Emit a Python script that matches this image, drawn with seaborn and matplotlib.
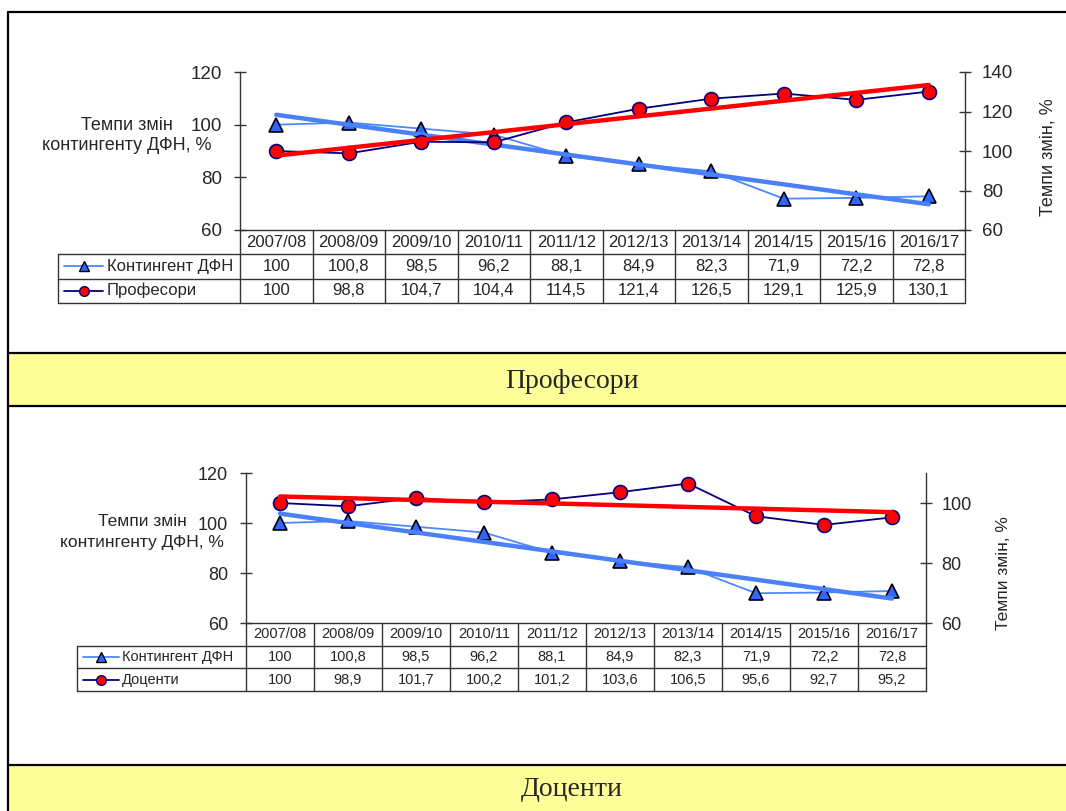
import numpy as np
import pandas as pd
import matplotlib
matplotlib.use("Agg")
import matplotlib.pyplot as plt
import matplotlib.transforms as mtransforms
from matplotlib.lines import Line2D
from matplotlib.patches import Rectangle
import seaborn as sns

# дані
years = ["2007/08", "2008/09", "2009/10", "2010/11", "2011/12",
         "2012/13", "2013/14", "2014/15", "2015/16", "2016/17"]
kontyngent = [100, 100.8, 98.5, 96.2, 88.1, 84.9, 82.3, 71.9, 72.2, 72.8]
profesory = [100, 98.8, 104.7, 104.4, 114.5, 121.4, 126.5, 129.1, 125.9, 130.1]
dotsenty = [100, 98.9, 101.7, 100.2, 101.2, 103.6, 106.5, 95.6, 92.7, 95.2]

W, H = 1066, 811

sns.set_theme(style="white")
plt.rcParams['font.family'] = ['Liberation Sans', 'DejaVu Sans']

BLUE_LINE = "#4D88FF"
BLUE_FILL = "#3366FF"
BLUE_TREND = "#4A80F8"
NAVY = "#000080"
RED = "#FF0000"
GRID = "#333333"


def fx(x):
    return x / W


def fy(y):
    return 1 - y / H


def fmt(v):
    return f"{v:g}".replace(".", ",")


fig = plt.figure(figsize=(W / 100, H / 100), dpi=100)

# рамка і жовті смуги
fig.add_artist(Rectangle((fx(9), fy(406)), 1, (406 - 353) / H, transform=fig.transFigure,
                         facecolor="#FFFF99", edgecolor="none"))
fig.add_artist(Rectangle((fx(9), fy(811)), 1, (811 - 765) / H, transform=fig.transFigure,
                         facecolor="#FFFF99", edgecolor="none"))
for yy in [12, 353, 406, 765]:
    fig.add_artist(Line2D([fx(8), 1], [fy(yy), fy(yy)], transform=fig.transFigure,
                          color="black", lw=1.6))
fig.add_artist(Line2D([fx(8), fx(8)], [fy(12), 0], transform=fig.transFigure,
                      color="black", lw=1.6))
fig.text(fx(572), fy(381), "Професори", ha="center", va="center", fontsize=20,
         family=["Liberation Serif", "DejaVu Serif"])
fig.text(fx(572), fy(790), "Доценти", ha="center", va="center", fontsize=20,
         family=["Liberation Serif", "DejaVu Serif"])


def draw_panel(box, left_lim, right_lim, right_ticks, staff, staff_name,
               rh, leg_left, key_x, lab_x, fs_tick, fs_tab, pads, ylab_left, ylab_right):
    x0, x1, y0, y1 = box
    ax = fig.add_axes([fx(x0), fy(y1), (x1 - x0) / W, (y1 - y0) / H])
    ax2 = ax.twinx()
    pos = np.arange(len(years))
    df = pd.DataFrame({"pos": pos, "kont": kontyngent, "staff": staff})

    # лінійні тренди
    k_fit = np.polyval(np.polyfit(pos, kontyngent, 1), pos)
    s_fit = np.polyval(np.polyfit(pos, staff, 1), pos)

    sns.lineplot(data=df, x="pos", y="kont", ax=ax, color=BLUE_LINE, lw=1.3,
                 marker="^", markersize=10.5, markerfacecolor=BLUE_FILL,
                 markeredgecolor="black", markeredgewidth=1.2, legend=False, zorder=3)
    sns.lineplot(x=pos, y=k_fit, ax=ax, color=BLUE_TREND, lw=3.2, legend=False, zorder=4)
    sns.lineplot(data=df, x="pos", y="staff", ax=ax2, color=NAVY, lw=1.3,
                 marker="o", markersize=10, markerfacecolor=RED,
                 markeredgecolor=NAVY, markeredgewidth=1.2, legend=False, zorder=3)
    sns.lineplot(x=pos, y=s_fit, ax=ax2, color=RED, lw=3.2, legend=False, zorder=4)

    for a in (ax, ax2):
        a.set_xlim(-0.5, len(years) - 0.5)
        a.set_xticks([])
        a.set_xlabel("")
        a.set_ylabel("")
        for s in a.spines.values():
            s.set_visible(False)
    ax.set_ylim(*left_lim)
    ax.set_yticks(np.arange(left_lim[0], left_lim[1] + 1, 20))
    ax2.set_ylim(*right_lim)
    ax2.set_yticks(right_ticks)
    ax.spines["left"].set_visible(True)
    ax.spines["bottom"].set_visible(True)
    ax2.spines["right"].set_visible(True)
    for s in [ax.spines["left"], ax.spines["bottom"], ax2.spines["right"]]:
        s.set_color(GRID)
        s.set_linewidth(1.0)
    ax.tick_params(axis="y", direction="inout", length=8, width=1, color=GRID,
                   labelsize=fs_tick, pad=pads[0], left=True)
    ax2.tick_params(axis="y", direction="inout", length=8, width=1, color=GRID,
                    labelsize=fs_tick, pad=pads[1], right=True)
    ax.patch.set_alpha(0)

    # підпис лівої осі: два рядки окремо
    fig.text(fx(ylab_left[0]), fy(ylab_left[1] - 10), "Темпи змін",
             ha="center", va="center", fontsize=fs_tick - 0.5)
    fig.text(fx(ylab_left[0]), fy(ylab_left[1] + 10), "контингенту ДФН, %",
             ha="center", va="center", fontsize=fs_tick - 0.5)
    fig.text(fx(ylab_right[0]), fy(ylab_right[1]), "Темпи змін, %", rotation=90,
             ha="center", va="center", fontsize=fs_tick - 0.5)

    # таблиця даних під графіком
    trans = mtransforms.blended_transform_factory(ax.transData, fig.transFigure)
    rows_y = [y1 + i * rh for i in range(4)]
    for yy in rows_y[1:]:
        fig.add_artist(Line2D([fx(leg_left), fx(x1)], [fy(yy), fy(yy)],
                              transform=fig.transFigure, color=GRID, lw=1.0))
    for c in range(len(years) + 1):
        fig.add_artist(Line2D([c - 0.5, c - 0.5], [fy(rows_y[0]), fy(rows_y[3])],
                              transform=trans, color=GRID, lw=1.0))
    fig.add_artist(Line2D([fx(leg_left), fx(leg_left)], [fy(rows_y[1]), fy(rows_y[3])],
                          transform=fig.transFigure, color=GRID, lw=1.0))
    for c, yr in enumerate(years):
        fig.text(c, fy(rows_y[0] + rh / 2), yr, transform=trans, ha="center",
                 va="center", fontsize=fs_tab)
        fig.text(c, fy(rows_y[1] + rh / 2), fmt(kontyngent[c]), transform=trans,
                 ha="center", va="center", fontsize=fs_tab)
        fig.text(c, fy(rows_y[2] + rh / 2), fmt(staff[c]), transform=trans,
                 ha="center", va="center", fontsize=fs_tab)

    # ключі легенди в таблиці
    ky1 = fy(rows_y[1] + rh / 2)
    ky2 = fy(rows_y[2] + rh / 2)
    kc = (key_x[0] + key_x[1]) / 2
    fig.add_artist(Line2D([fx(key_x[0]), fx(key_x[1])], [ky1, ky1],
                          transform=fig.transFigure, color=BLUE_LINE, lw=1.3))
    fig.add_artist(Line2D([fx(kc)], [ky1], transform=fig.transFigure, marker="^",
                          markersize=6.5, markerfacecolor=BLUE_FILL,
                          markeredgecolor="black", markeredgewidth=1.0, lw=0))
    fig.add_artist(Line2D([fx(key_x[0]), fx(key_x[1])], [ky2, ky2],
                          transform=fig.transFigure, color=NAVY, lw=1.3))
    fig.add_artist(Line2D([fx(kc)], [ky2], transform=fig.transFigure, marker="o",
                          markersize=7, markerfacecolor=RED,
                          markeredgecolor=NAVY, markeredgewidth=1.0, lw=0))
    fig.text(fx(lab_x), ky1, "Контингент ДФН", ha="left", va="center", fontsize=fs_tab)
    fig.text(fx(lab_x), ky2, staff_name, ha="left", va="center", fontsize=fs_tab)
    return ax, ax2


draw_panel((240, 965, 72, 230), (60, 120), (60, 140), [60, 80, 100, 120, 140],
           profesory, "Професори", rh=24.3, leg_left=58, key_x=(64, 103), lab_x=107,
           fs_tick=13.5, fs_tab=12, pads=(9, 8), ylab_left=(127, 135),
           ylab_right=(1048, 157))

draw_panel((246, 926, 473, 623), (60, 120), (60, 110), [60, 80, 100],
           dotsenty, "Доценти", rh=22.7, leg_left=77, key_x=(83, 119), lab_x=122,
           fs_tick=13, fs_tab=10.5, pads=(9, 7), ylab_left=(142, 532),
           ylab_right=(1003, 573))

fig.savefig("out.png", dpi=100)
